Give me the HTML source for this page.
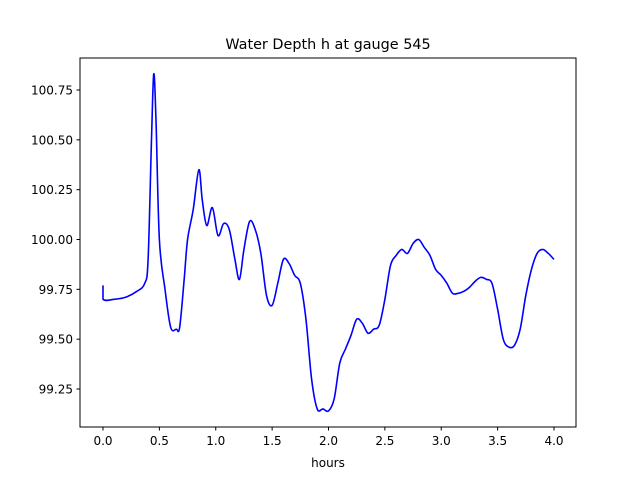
<!DOCTYPE html>
<html><head><meta charset="utf-8"><style>
body{margin:0;background:#fff;}
svg{display:block;font-family:"DejaVu Sans","Liberation Sans",sans-serif;}
</style></head><body>
<svg id="chart" width="640" height="480">
<rect x="0" y="0" width="640" height="480" fill="#fff"/>
<text x="328" y="49" text-anchor="middle" font-size="14.4">Water Depth h at gauge 545</text>
<g id="xticks"></g>
<g id="yticks"></g>
<path id="series" fill="none" stroke="#0000ff" stroke-width="1.6" stroke-linejoin="round"/>
<rect x="80" y="58" width="496" height="369" fill="none" stroke="#000" stroke-width="1"/>
<text x="328" y="467" text-anchor="middle" font-size="12">hours</text>
</svg>
<script>
const hours=[0.0,0.0,0.1,0.2,0.3,0.37,0.4,0.43,0.45,0.47,0.5,0.55,0.6,0.65,0.68,0.72,0.75,0.8,0.85,0.88,0.92,0.97,1.02,1.07,1.12,1.17,1.21,1.25,1.3,1.35,1.4,1.45,1.5,1.55,1.6,1.65,1.7,1.75,1.8,1.85,1.9,1.95,2.0,2.05,2.1,2.15,2.2,2.25,2.3,2.35,2.4,2.45,2.5,2.55,2.6,2.65,2.7,2.75,2.8,2.85,2.9,2.95,3.0,3.05,3.1,3.15,3.2,3.25,3.3,3.35,3.4,3.45,3.5,3.55,3.6,3.65,3.7,3.75,3.8,3.85,3.9,3.95,4.0];
const depth=[99.77,99.70,99.70,99.71,99.74,99.78,99.9,100.5,100.83,100.6,100.0,99.75,99.56,99.55,99.56,99.8,100.0,100.15,100.35,100.2,100.07,100.16,100.02,100.08,100.05,99.9,99.8,99.95,100.09,100.05,99.93,99.72,99.67,99.78,99.9,99.88,99.82,99.78,99.6,99.3,99.15,99.15,99.14,99.2,99.38,99.45,99.52,99.6,99.58,99.53,99.55,99.57,99.7,99.87,99.92,99.95,99.93,99.98,100.0,99.96,99.92,99.85,99.82,99.78,99.73,99.73,99.74,99.76,99.79,99.81,99.8,99.78,99.65,99.5,99.46,99.47,99.55,99.72,99.85,99.93,99.95,99.93,99.9];
const xTicks=[0.0,0.5,1.0,1.5,2.0,2.5,3.0,3.5,4.0];
const yTicks=[99.25,99.50,99.75,100.00,100.25,100.50,100.75];
function xs(v){return 103+v*(554-103)/4;}
function ys(v){return 389-(v-99.25)*(389-90)/1.5;}
const NS='http://www.w3.org/2000/svg';
const gx=document.getElementById('xticks'),gy=document.getElementById('yticks');
xTicks.forEach(t=>{
 const l=document.createElementNS(NS,'line');
 
 
 l.setAttribute('x1',xs(t));l.setAttribute('x2',xs(t));l.setAttribute('y1',427);l.setAttribute('y2',430.5);l.setAttribute('stroke','#000');
 gx.appendChild(l);
 const tx=document.createElementNS(NS,'text');
 
 
 tx.setAttribute('x',xs(t));tx.setAttribute('y',445);tx.setAttribute('text-anchor','middle');tx.setAttribute('font-size','12');
 tx.textContent=t.toFixed(1);gx.appendChild(tx);
});
yTicks.forEach(t=>{
 const l=document.createElementNS(NS,'line');
 
 
 l.setAttribute('x1',76.5);l.setAttribute('x2',80);l.setAttribute('y1',ys(t));l.setAttribute('y2',ys(t));l.setAttribute('stroke','#000');
 gy.appendChild(l);
 const tx=document.createElementNS(NS,'text');
 
 
 tx.setAttribute('x',73);tx.setAttribute('y',ys(t)+4.5);tx.setAttribute('text-anchor','end');tx.setAttribute('font-size','12');
 tx.textContent=t.toFixed(2);gy.appendChild(tx);
});
const P=hours.map((h,i)=>[xs(h),ys(depth[i])]);
let d='M'+P[0][0]+','+P[0][1];
for(let i=0;i<P.length-1;i++){
 const p0=P[Math.max(0,i-1)],p1=P[i],p2=P[i+1],p3=P[Math.min(P.length-1,i+2)];
 const c1=[p1[0]+(p2[0]-p0[0])/6,p1[1]+(p2[1]-p0[1])/6];
 const c2=[p2[0]-(p3[0]-p1[0])/6,p2[1]-(p3[1]-p1[1])/6];
 if(i===0){d+=' L'+p2[0]+','+p2[1];continue;}
 d+=' C'+c1[0]+','+c1[1]+' '+c2[0]+','+c2[1]+' '+p2[0]+','+p2[1];
}
document.getElementById('series').setAttribute('d',d);
</script>
</body></html>
